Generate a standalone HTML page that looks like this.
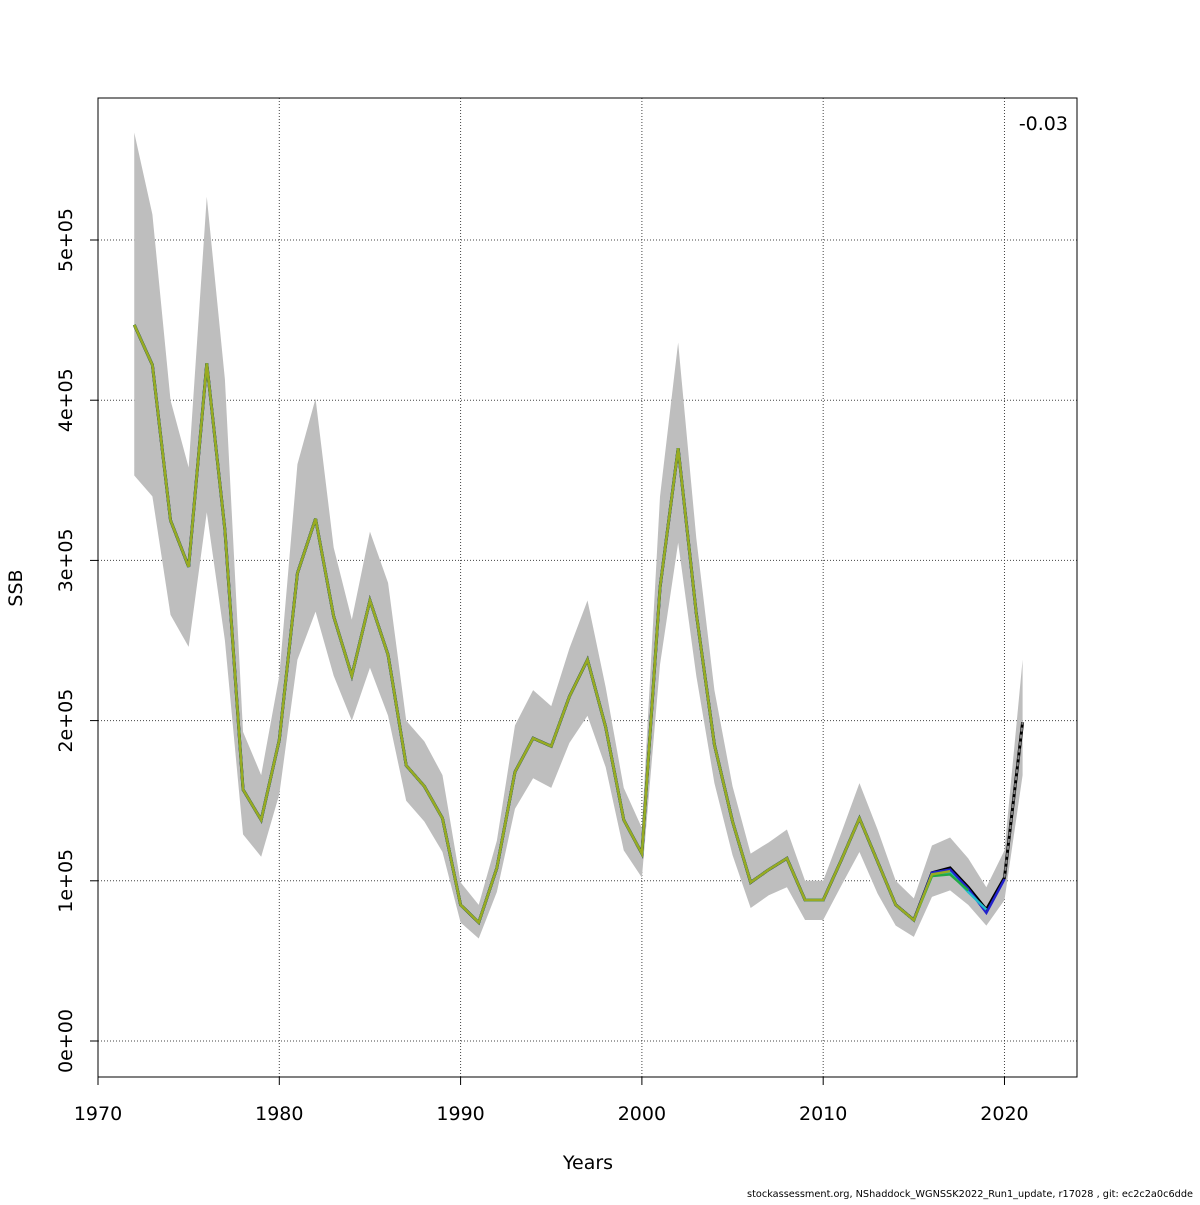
<!DOCTYPE html>
<html><head><meta charset="utf-8"><style>
body{margin:0;background:#fff;}
svg text{font-family:"DejaVu Sans","Liberation Sans",sans-serif;}
</style></head><body>
<svg id="chart" width="1200" height="1200" viewBox="0 0 1200 1200" xmlns="http://www.w3.org/2000/svg">
<rect width="1200" height="1200" fill="#fff"/>
<g id="grid"></g>
<g id="band"></g>
<g id="lines"></g>
<rect x="98" y="98" width="979" height="979" fill="none" stroke="#000" stroke-width="1"/>
<g id="axes"></g>
<text x="22" y="588" font-size="19" text-anchor="middle" transform="rotate(-90 22 588)">SSB</text>
<text x="588" y="1169" font-size="19" text-anchor="middle">Years</text>
<text x="1068" y="130" font-size="19" text-anchor="end">-0.03</text>
<text x="747" y="1197" font-size="10" textLength="446" lengthAdjust="spacingAndGlyphs">stockassessment.org, NShaddock_WGNSSK2022_Run1_update, r17028 , git: ec2c2a0c6dde</text>
</svg>
<script>
const years=[1972,1973,1974,1975,1976,1977,1978,1979,1980,1981,1982,1983,1984,1985,1986,1987,1988,1989,1990,1991,1992,1993,1994,1995,1996,1997,1998,1999,2000,2001,2002,2003,2004,2005,2006,2007,2008,2009,2010,2011,2012,2013,2014,2015,2016,2017,2018,2019,2020,2021];
const ssb=[4.47,4.22,3.25,2.96,4.23,3.19,1.57,1.38,1.88,2.92,3.26,2.65,2.28,2.75,2.41,1.72,1.59,1.39,0.85,0.74,1.08,1.68,1.89,1.84,2.15,2.38,1.96,1.38,1.17,2.83,3.70,2.67,1.85,1.37,0.99,1.07,1.14,0.88,0.88,1.13,1.39,1.12,0.85,0.755,1.05,1.08,0.96,0.82,1.02,1.99];
const upper=[5.67,5.16,4.0,3.58,5.27,4.13,1.93,1.66,2.28,3.6,4.01,3.08,2.63,3.18,2.86,2.0,1.87,1.66,0.99,0.85,1.25,1.97,2.19,2.09,2.45,2.75,2.21,1.58,1.33,3.4,4.36,3.14,2.19,1.59,1.17,1.24,1.32,1.0,1.0,1.3,1.61,1.32,1.0,0.89,1.22,1.27,1.14,0.96,1.19,2.38];
const lower=[3.53,3.4,2.66,2.46,3.3,2.5,1.29,1.15,1.54,2.38,2.68,2.28,2.0,2.33,2.03,1.5,1.37,1.18,0.74,0.64,0.93,1.45,1.64,1.58,1.86,2.03,1.71,1.19,1.02,2.35,3.11,2.28,1.61,1.16,0.83,0.91,0.96,0.755,0.755,0.97,1.18,0.92,0.72,0.65,0.9,0.94,0.85,0.72,0.88,1.66];
const peelColors=["#2222cc","#22bbcc","#22aa44","#99aa22"];
const peelEnds=[2020,2019,2018,2017];
const peelTails=[[1.07,0.95,0.80,1.01],[1.04,1.05,0.93,0.82],[1.03,1.04,0.94],[1.04,1.06]];
const xTicks=[1970,1980,1990,2000,2010,2020];
const yTicks=[0,1,2,3,4,5];
const yLabels=["0e+00","1e+05","2e+05","3e+05","4e+05","5e+05"];

const X=y=>98+(y-1970)*(979/54);
const Y=v=>1041-v*160.2;
const NS="http://www.w3.org/2000/svg";
function mk(tag,parent,attrs){const e=document.createElementNS(NS,tag);for(const k in attrs)e.setAttribute(k,attrs[k]);parent.appendChild(e);return e;}
const grid=document.getElementById('grid'),axes=document.getElementById('axes'),band=document.getElementById('band'),lines=document.getElementById('lines');
xTicks.forEach(t=>{
 const l=mk('line',grid,{x1:X(t),x2:X(t),y1:98,y2:1077,stroke:'#444','stroke-dasharray':'1,2','stroke-width':1});
 
 
 const tk=mk('line',axes,{x1:X(t),x2:X(t),y1:1077,y2:1085,stroke:'#000'});
 
 
 const tx=mk('text',axes,{x:X(t),y:1120,'font-size':19,'text-anchor':'middle'});tx.textContent=t;
 
 
});
mk('line',axes,{x1:X(1970),x2:X(2020),y1:1077,y2:1077,stroke:'#000'});
yTicks.forEach((t,i)=>{
 const l=mk('line',grid,{x1:98,x2:1077,y1:Y(t),y2:Y(t),stroke:'#444','stroke-dasharray':'1,2','stroke-width':1});
 
 
 const tk=mk('line',axes,{x1:90,x2:98,y1:Y(t),y2:Y(t),stroke:'#000'});
 
 
 const tx=mk('text',axes,{x:0,y:0,'font-size':19,'text-anchor':'middle',transform:`translate(72 ${Y(t)}) rotate(-90)`});tx.textContent=yLabels[i];
 
 
});
let d=years.map((y,i)=>(i?'L':'M')+X(y)+' '+Y(upper[i])).join(' ');
for(let i=years.length-1;i>=0;i--)d+=' L'+X(years[i])+' '+Y(lower[i]);
const bp=mk('path',band,{d:d+'Z',fill:'#bebebe'});


const pts=a=>a.map(p=>X(p[0])+','+Y(p[1])).join(' ');
const main=mk('polyline',lines,{points:pts(years.map((y,i)=>[y,ssb[i]])),fill:'none',stroke:'#000','stroke-width':3});


peelEnds.forEach((end,k)=>{
 const tail=peelTails[k];const start=end-tail.length+1;
 const arr=[];years.forEach((y,i)=>{if(y<start)arr.push([y,ssb[i]]);});
 tail.forEach((v,j)=>arr.push([start+j,v]));
 const p=mk('polyline',lines,{points:pts(arr),fill:'none',stroke:peelColors[k],'stroke-width':2.5});
 
 
});
const n=years.length;
const dl=mk('polyline',lines,{points:pts([[years[n-2],ssb[n-2]],[years[n-1],ssb[n-1]]]),fill:'none',stroke:'#888','stroke-width':2,'stroke-dasharray':'4,3'});


</script>
</body></html>
